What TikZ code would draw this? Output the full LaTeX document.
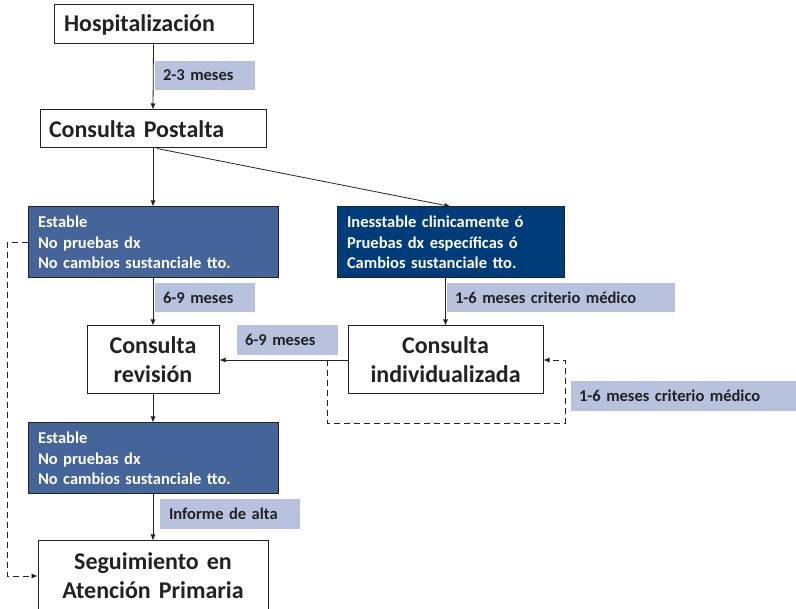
\documentclass[tikz,border=0pt]{standalone}
\usepackage{fontspec}
\setmainfont{Carlito}
\usepackage{xcolor}
\usetikzlibrary{arrows.meta}

\definecolor{labelblue}{HTML}{B8C1DD}
\definecolor{midblue}{HTML}{45649A}
\definecolor{darkblue}{HTML}{003B7A}
\definecolor{inkgray}{HTML}{222222}

\tikzset{
  mainbox/.style={draw=inkgray, line width=1pt, fill=white, text=inkgray, inner sep=0pt,
    font=\fontsize{24}{29}\selectfont\bfseries},
  statebox/.style={draw=inkgray, line width=1pt, text=white, inner sep=0pt, align=left,
    inner xsep=10pt, font=\fontsize{16.5}{20.5}\selectfont\bfseries},
  timelabel/.style={fill=labelblue, text=inkgray, inner sep=0pt, inner xsep=8pt, align=left,
    minimum height=29pt, font=\fontsize{16.5}{20}\selectfont\bfseries},
  flow/.style={draw=inkgray, line width=0.8pt, -{Latex[length=6pt,width=5pt]}},
  loopback/.style={flow, dash pattern=on 6pt off 4pt}
}

\begin{document}
\begin{tikzpicture}[x=1pt, y=-1pt]
  \useasboundingbox (0,0) rectangle (796,609);

  % main boxes
  \node[mainbox, align=left, text width=179pt, inner xsep=10pt, minimum height=39pt] (hosp) at (153.5,24.5) {Hospitalización};
  \node[mainbox, align=left, text width=208pt, inner xsep=9pt, minimum height=38pt] (post) at (153,129) {Consulta Postalta};
  \node[statebox, fill=midblue, text width=230pt, minimum height=71pt] (est1) at (153,242.5) {Estable\\No pruebas dx\\No cambios sustanciale tto.};
  \node[statebox, fill=darkblue, text width=207pt, minimum height=71pt] (inest) at (450.5,242.5) {Inesstable clinicamente ó\\Pruebas dx específicas ó\\Cambios sustanciale tto.};
  \node[mainbox, align=center, text width=132pt, minimum height=68pt] (rev) at (153,360) {Consulta\\revisión};
  \node[mainbox, align=center, text width=195pt, minimum height=68pt] (indiv) at (445.5,360) {Consulta\\individualizada};
  \node[statebox, fill=midblue, text width=230pt, minimum height=71pt] (est2) at (153,458.5) {Estable\\No pruebas dx\\No cambios sustanciale tto.};
  \node[mainbox, align=center, text width=230pt, minimum height=70pt] (seg) at (153,576) {Seguimiento en\\Atención Primaria};

  % time labels
  \node[timelabel, text width=84pt] (t1) at (205,75.5) {2-3 meses};
  \node[timelabel, text width=84pt] (t2) at (205,297.5) {6-9 meses};
  \node[timelabel, text width=212pt] (t3) at (561,297.5) {1-6 meses criterio médico};
  \node[timelabel, text width=85pt, minimum height=30pt] (t4) at (287.5,340) {6-9 meses};
  \node[timelabel, text width=209pt, minimum height=30pt] (t5) at (683.5,396) {1-6 meses criterio médico};
  \node[timelabel, text width=122pt, inner xsep=9pt, minimum height=30pt] (t6) at (230,514) {Informe de alta};

  % connectors
  \draw[flow] (hosp.south) -- (post.north);
  \draw[flow] (post.south) -- (est1.north);
  \draw[flow] ([xshift=4pt]post.south) -- (inest.north);
  \draw[flow] (est1.south) -- (rev.north);
  \draw[flow] (inest.south -| indiv.north) -- (indiv.north);
  \draw[flow] (indiv.west) -- (rev.east);
  \draw[flow] (rev.south) -- (est2.north);
  \draw[flow] (est2.south) -- (seg.north);

  % dashed returns
  \coordinate (lpstart) at (327,360);
  \coordinate (lpleft) at (327,423);
  \coordinate (lpright) at (565,423);
  \draw[loopback] (lpstart) -- (lpleft) -- (lpright) |- (indiv.east);
  \coordinate (sidebar) at (7,242.5);
  \draw[loopback] (est1.west) -- (sidebar) |- (seg.west);
\end{tikzpicture}
\end{document}
